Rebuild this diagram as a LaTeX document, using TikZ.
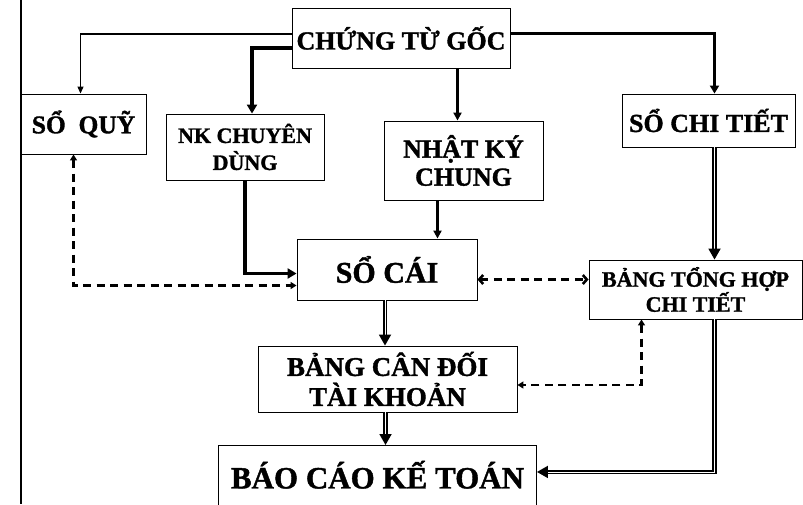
\documentclass[tikz,border=0pt]{standalone}
\usepackage{fontspec}
\setmainfont{Liberation Serif}[BoldFeatures={FakeBold=1.3}]
\usetikzlibrary{arrows.meta,positioning,calc}

\begin{document}
\begin{tikzpicture}[x=1pt, y=-1pt,
    every node/.style={inner sep=1pt}]

    \tikzstyle{box}=[draw, line width=0.9pt, align=center, inner sep=0pt]
    \tikzstyle{thinarrow}=[line width=1.1pt, -{Triangle[width=6pt,length=7pt]}]
    \tikzstyle{midarrow}=[line width=2.4pt, -{Triangle[width=8pt,length=8pt]}]
    \tikzstyle{thickarrow}=[line width=3.4pt, -{Triangle[width=10pt,length=9pt]}]
    \tikzstyle{dblarrow}=[double, double distance=0.8pt, line width=1.8pt, -{Triangle[width=12pt,length=11pt]}]
    \tikzstyle{dasharrow}=[line width=2.6pt, dash pattern=on 8pt off 5.5pt, {Triangle[width=7pt,length=6pt]}-{Triangle[width=7pt,length=6pt]}]
    \tikzstyle{barbarrow}=[line width=2.6pt, dash pattern=on 8pt off 5.5pt, {Straight Barb[width=9pt,length=4pt]}-{Straight Barb[width=9pt,length=4pt]}]

    \useasboundingbox (0,0) rectangle (803,504);

    % left margin rule
    \draw[line width=2.2pt] (21,0) -- (21,504);

    \node[box, minimum width=218pt, minimum height=60pt,
          font=\fontsize{26}{30}\selectfont\bfseries] (ctg) at (401,38) {CHỨNG TỪ GỐC};
    \node[box, minimum width=125pt, minimum height=60pt,
          font=\fontsize{25.5}{30}\selectfont\bfseries] (soquy) at (83.5,124) {SỔ~~QUỸ};
    \node[box, minimum width=158pt, minimum height=66pt,
          font=\fontsize{22}{27}\selectfont\bfseries] (nkcd) at (245,147) {NK CHUYÊN\\DÙNG};
    \node[box, minimum width=159pt, minimum height=79pt,
          font=\fontsize{26}{28}\selectfont\bfseries] (nkc) at (463.5,160.5) {NHẬT KÝ\\CHUNG};
    \node[box, minimum width=173pt, minimum height=53pt,
          font=\fontsize{26}{30}\selectfont\bfseries] (sct) at (708.5,120.5) {SỔ CHI TIẾT};
    \node[box, minimum width=180pt, minimum height=61pt,
          font=\fontsize{30}{34}\selectfont\bfseries] (socai) at (387,269.5) {SỔ CÁI};
    \node[box, minimum width=213pt, minimum height=59pt,
          font=\fontsize{22}{25}\selectfont\bfseries] (bth) at (695.5,289.5) {BẢNG TỔNG HỢP\\CHI TIẾT};
    \node[box, minimum width=259pt, minimum height=66pt,
          font=\fontsize{27}{30}\selectfont\bfseries] (bcdtk) at (387.5,379) {BẢNG CÂN ĐỐI\\TÀI KHOẢN};
    \node[box, anchor=north, minimum width=318pt, text height=43pt, text depth=30pt,
          font=\fontsize{31}{34}\selectfont\bfseries] (bckt) at (377.5,445) {BÁO CÁO KẾ TOÁN};

    % from CHUNG TU GOC
    \draw[thinarrow] ([yshift=4pt]ctg.west) -| ([xshift=-3pt]soquy.north);
    \draw[thickarrow] ([yshift=-10pt]ctg.west) -| ([xshift=7pt]nkcd.north);
    \draw[midarrow] ([xshift=-6pt]nkc.north |- ctg.south) -- ([xshift=-6pt]nkc.north);
    \draw[line width=3pt, -{Triangle[width=9pt,length=8pt]}] ([yshift=5pt]ctg.east) -| ([xshift=6pt]sct.north);

    % into SO CAI
    \draw[thickarrow] (nkcd.south) |- ([yshift=-4pt]socai.west);
    \draw[midarrow] ([xshift=-26pt]nkc.south) -- ([xshift=-26pt]nkc.south |- socai.north);
    \draw[dasharrow] ([xshift=-10pt]soquy.south) |- ([yshift=-16pt]socai.west);
    \draw[barbarrow] ([yshift=-10pt]socai.east) -- ([yshift=-10pt]socai.east -| bth.west);

    % detail branch
    \draw[dblarrow] ([xshift=6pt]sct.south) -- ([xshift=6pt]sct.south |- bth.north);
    \draw[dasharrow] ([xshift=-54pt]bth.south) |- ([yshift=-6pt]bcdtk.east);
    \draw[dblarrow] ([xshift=19pt]bth.south) |- ([yshift=10pt]bckt.east);

    % down the middle
    \draw[dblarrow] ([xshift=-2pt]socai.south) -- ([xshift=-2pt]socai.south |- bcdtk.north);
    \draw[dblarrow] ([xshift=-2pt]bcdtk.south) -- ([xshift=-2pt]bcdtk.south |- bckt.north);

\end{tikzpicture}
\end{document}
